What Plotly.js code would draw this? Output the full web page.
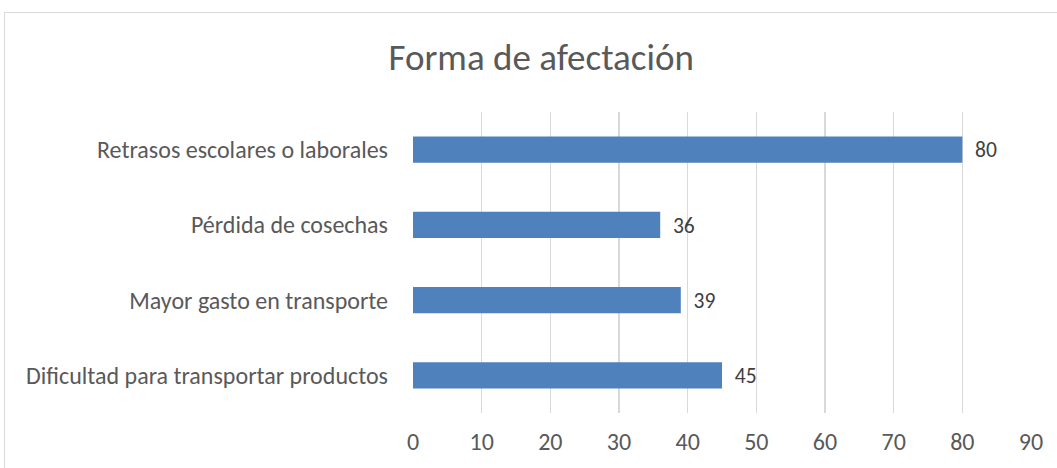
<!DOCTYPE html>
<html>
<head>
<meta charset="utf-8">
<script src="https://cdn.plot.ly/plotly-3.0.1.min.js"></script>
<style>
html,body{margin:0;padding:0;background:#fff;}
#wrap{position:relative;width:1057px;height:468px;overflow:hidden;}
#frame{position:absolute;left:4px;top:12px;width:1100px;height:500px;border:1.5px solid #d9d9d9;box-sizing:border-box;pointer-events:none;}
#chart{position:absolute;left:0;top:0;width:1057px;height:468px;}
</style>
</head>
<body>
<div id="wrap"><div id="chart"></div><div id="frame"></div></div>
<script>
const categories = ["Dificultad para transportar productos", "Mayor gasto en transporte", "Pérdida de cosechas", "Retrasos escolares o laborales"];
const values = [45, 39, 36, 80];
const tickValues = [0, 10, 20, 30, 40, 50, 60, 70, 80, 90];

const fontFam = "Carlito, Calibri, 'Open Sans', sans-serif";
const trace = {
  type: 'bar',
  orientation: 'h',
  y: categories,
  x: values,
  marker: {color: '#4F81BD'},
  text: values.map(String),
  texttemplate: '\u00a0\u00a0%{text}',
  textposition: 'outside',
  cliponaxis: false,
  textfont: {family: fontFam, size: 24, color: '#404040'},
  hoverinfo: 'none'
};

const layout = {
  width: 1057, height: 468,
  margin: {l: 413, r: 26, t: 112, b: 55},
  paper_bgcolor: 'rgba(0,0,0,0)', plot_bgcolor: '#fff',
  title: {text: 'Forma de afectación', x: 0.512, xanchor: 'center', y: 0.878, yanchor: 'middle',
          font: {family: fontFam, size: 37, color: '#595959'}},
  bargap: 0.654,
  showlegend: false,
  xaxis: {range: [0, 90], tickvals: tickValues, showgrid: true, gridcolor: '#d9d9d9', gridwidth: 1.5,
          zeroline: false, showline: false, ticks: '', ticklabelstandoff: 12,
          tickfont: {family: fontFam, size: 24, color: '#595959'}, fixedrange: true},
  yaxis: {showgrid: false, zeroline: false, showline: false, ticks: '', ticklabelstandoff: 24,
          tickfont: {family: fontFam, size: 24, color: '#595959'}, fixedrange: true}
};

Plotly.newPlot('chart', [trace], layout, {staticPlot: true});
</script>
</body>
</html>
